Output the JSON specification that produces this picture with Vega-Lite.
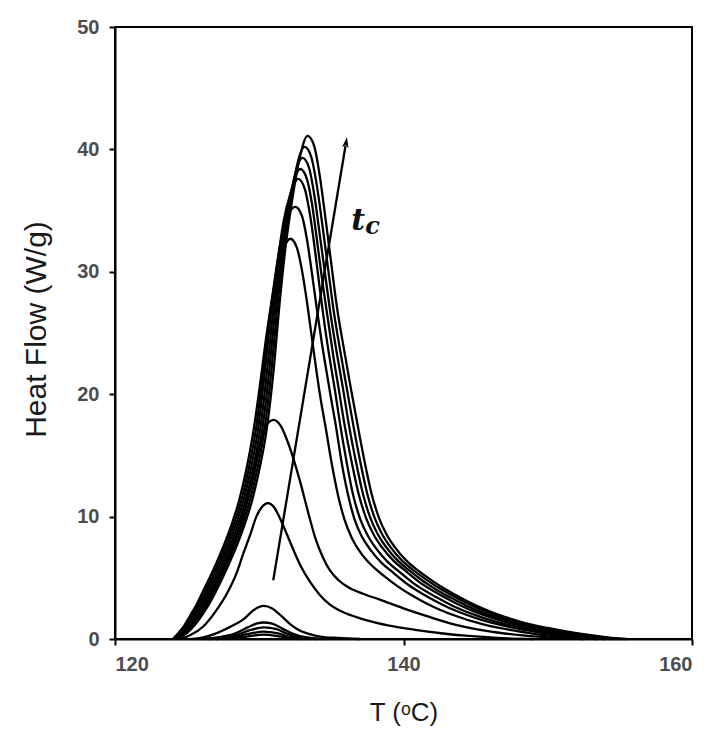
{
  "$schema": "https://vega.github.io/schema/vega-lite/v6.json",
  "autosize": "none",
  "width": 577,
  "height": 612,
  "padding": {"left": 115, "top": 27, "right": 23, "bottom": 99},
  "background": "white",
  "config": {
    "view": {"stroke": "black", "strokeWidth": 2},
    "axis": {
      "domainColor": "black", "domainWidth": 2, "tickColor": "black", "tickWidth": 2, "tickSize": 6,
      "grid": false, "labelFont": "Liberation Sans", "labelFontSize": 20, "labelFontWeight": "bold", "labelColor": "#4d4d4d",
      "titleFont": "Liberation Sans", "titleFontWeight": "normal", "titleColor": "#1a1a1a"
    }
  },
  "layer": [
    {
      "data": {"values": [
        {"c":1,"T":124.3,"y":0},{"c":1,"T":125,"y":0.5},{"c":1,"T":125.5,"y":1.1},{"c":1,"T":126,"y":1.9},{"c":1,"T":126.5,"y":2.8},{"c":1,"T":127,"y":3.9},{"c":1,"T":127.5,"y":5.1},{"c":1,"T":128,"y":6.4},{"c":1,"T":128.5,"y":7.8},{"c":1,"T":129,"y":9.4},{"c":1,"T":129.5,"y":11.3},{"c":1,"T":130,"y":13.8},{"c":1,"T":130.5,"y":17.0},{"c":1,"T":131,"y":22.0},{"c":1,"T":131.4,"y":27.3},{"c":1,"T":131.8,"y":31.8},{"c":1,"T":132.3,"y":36.0},{"c":1,"T":132.8,"y":39.3},{"c":1,"T":133.35,"y":41.1},{"c":1,"T":133.8,"y":40.3},{"c":1,"T":134.2,"y":37.8},{"c":1,"T":134.6,"y":34.3},{"c":1,"T":135,"y":30.6},{"c":1,"T":135.4,"y":27.0},{"c":1,"T":135.9,"y":23.5},{"c":1,"T":136.3,"y":20.8},{"c":1,"T":136.8,"y":17.6},{"c":1,"T":137.3,"y":14.5},{"c":1,"T":137.8,"y":11.8},{"c":1,"T":138.3,"y":9.9},{"c":1,"T":138.8,"y":8.6},{"c":1,"T":139.4,"y":7.5},{"c":1,"T":140.2,"y":6.4},{"c":1,"T":141,"y":5.6},{"c":1,"T":142,"y":4.75},{"c":1,"T":143,"y":4.0},{"c":1,"T":144,"y":3.35},{"c":1,"T":145,"y":2.75},{"c":1,"T":146,"y":2.25},{"c":1,"T":147,"y":1.82},{"c":1,"T":148,"y":1.45},{"c":1,"T":150,"y":0.9},{"c":1,"T":152,"y":0.47},{"c":1,"T":154,"y":0.16},{"c":1,"T":155.5,"y":0},
        {"c":2,"T":124.25,"y":0},{"c":2,"T":124.9,"y":0.5},{"c":2,"T":125.4,"y":1.1},{"c":2,"T":125.85,"y":1.9},{"c":2,"T":126.35,"y":2.8},{"c":2,"T":126.85,"y":3.9},{"c":2,"T":127.35,"y":5.1},{"c":2,"T":127.85,"y":6.4},{"c":2,"T":128.35,"y":7.8},{"c":2,"T":128.85,"y":9.4},{"c":2,"T":129.35,"y":11.3},{"c":2,"T":129.85,"y":13.8},{"c":2,"T":130.35,"y":17.0},{"c":2,"T":130.85,"y":22.0},{"c":2,"T":131.25,"y":27.1},{"c":2,"T":131.65,"y":31.4},{"c":2,"T":132.15,"y":35.4},{"c":2,"T":132.6,"y":38.6},{"c":2,"T":133.15,"y":40.2},{"c":2,"T":133.6,"y":39.4},{"c":2,"T":134.0,"y":37.0},{"c":2,"T":134.4,"y":33.6},{"c":2,"T":134.8,"y":30.0},{"c":2,"T":135.2,"y":26.5},{"c":2,"T":135.65,"y":23.3},{"c":2,"T":136.05,"y":20.6},{"c":2,"T":136.5,"y":17.6},{"c":2,"T":137.0,"y":14.5},{"c":2,"T":137.5,"y":11.8},{"c":2,"T":138.0,"y":9.9},{"c":2,"T":138.5,"y":8.6},{"c":2,"T":139.1,"y":7.5},{"c":2,"T":139.9,"y":6.4},{"c":2,"T":140.7,"y":5.6},{"c":2,"T":141.7,"y":4.75},{"c":2,"T":142.7,"y":4.0},{"c":2,"T":143.7,"y":3.35},{"c":2,"T":144.7,"y":2.75},{"c":2,"T":145.7,"y":2.25},{"c":2,"T":146.7,"y":1.82},{"c":2,"T":147.7,"y":1.45},{"c":2,"T":149.7,"y":0.9},{"c":2,"T":151.7,"y":0.47},{"c":2,"T":153.7,"y":0.16},{"c":2,"T":155.2,"y":0},
        {"c":3,"T":124.2,"y":0},{"c":3,"T":124.8,"y":0.5},{"c":3,"T":125.3,"y":1.1},{"c":3,"T":125.7,"y":1.9},{"c":3,"T":126.2,"y":2.8},{"c":3,"T":126.7,"y":3.9},{"c":3,"T":127.2,"y":5.1},{"c":3,"T":127.7,"y":6.4},{"c":3,"T":128.2,"y":7.8},{"c":3,"T":128.7,"y":9.4},{"c":3,"T":129.2,"y":11.3},{"c":3,"T":129.7,"y":13.8},{"c":3,"T":130.2,"y":17.0},{"c":3,"T":130.7,"y":22.0},{"c":3,"T":131.1,"y":26.9},{"c":3,"T":131.5,"y":31.0},{"c":3,"T":132.0,"y":35.0},{"c":3,"T":132.45,"y":37.8},{"c":3,"T":133.0,"y":39.3},{"c":3,"T":133.45,"y":38.5},{"c":3,"T":133.8,"y":36.4},{"c":3,"T":134.2,"y":33.0},{"c":3,"T":134.6,"y":29.5},{"c":3,"T":135.0,"y":26.1},{"c":3,"T":135.4,"y":23.2},{"c":3,"T":135.8,"y":20.5},{"c":3,"T":136.2,"y":17.6},{"c":3,"T":136.7,"y":14.5},{"c":3,"T":137.2,"y":11.8},{"c":3,"T":137.7,"y":9.9},{"c":3,"T":138.2,"y":8.6},{"c":3,"T":138.8,"y":7.5},{"c":3,"T":139.6,"y":6.4},{"c":3,"T":140.4,"y":5.6},{"c":3,"T":141.4,"y":4.7},{"c":3,"T":142.4,"y":3.95},{"c":3,"T":143.4,"y":3.3},{"c":3,"T":144.4,"y":2.7},{"c":3,"T":145.4,"y":2.2},{"c":3,"T":146.4,"y":1.78},{"c":3,"T":147.4,"y":1.42},{"c":3,"T":149.4,"y":0.87},{"c":3,"T":151.4,"y":0.45},{"c":3,"T":153.4,"y":0.15},{"c":3,"T":155.0,"y":0},
        {"c":4,"T":124.15,"y":0},{"c":4,"T":124.7,"y":0.5},{"c":4,"T":125.15,"y":1.1},{"c":4,"T":125.55,"y":1.9},{"c":4,"T":126.05,"y":2.8},{"c":4,"T":126.55,"y":3.9},{"c":4,"T":127.05,"y":5.1},{"c":4,"T":127.55,"y":6.4},{"c":4,"T":128.05,"y":7.8},{"c":4,"T":128.55,"y":9.4},{"c":4,"T":129.05,"y":11.3},{"c":4,"T":129.55,"y":13.8},{"c":4,"T":130.05,"y":17.0},{"c":4,"T":130.55,"y":22.0},{"c":4,"T":130.95,"y":26.7},{"c":4,"T":131.35,"y":30.6},{"c":4,"T":131.85,"y":34.6},{"c":4,"T":132.3,"y":37.0},{"c":4,"T":132.85,"y":38.4},{"c":4,"T":133.3,"y":37.6},{"c":4,"T":133.65,"y":35.6},{"c":4,"T":134.0,"y":32.6},{"c":4,"T":134.4,"y":29.0},{"c":4,"T":134.8,"y":25.8},{"c":4,"T":135.15,"y":23.0},{"c":4,"T":135.5,"y":20.5},{"c":4,"T":135.9,"y":17.6},{"c":4,"T":136.4,"y":14.5},{"c":4,"T":136.9,"y":11.8},{"c":4,"T":137.4,"y":9.9},{"c":4,"T":137.9,"y":8.6},{"c":4,"T":138.5,"y":7.5},{"c":4,"T":139.3,"y":6.4},{"c":4,"T":140.1,"y":5.6},{"c":4,"T":141.1,"y":4.65},{"c":4,"T":142.1,"y":3.9},{"c":4,"T":143.1,"y":3.25},{"c":4,"T":144.1,"y":2.65},{"c":4,"T":145.1,"y":2.15},{"c":4,"T":146.1,"y":1.74},{"c":4,"T":147.1,"y":1.38},{"c":4,"T":149.1,"y":0.84},{"c":4,"T":151.1,"y":0.43},{"c":4,"T":153.1,"y":0.14},{"c":4,"T":154.8,"y":0},
        {"c":5,"T":124.1,"y":0},{"c":5,"T":124.6,"y":0.5},{"c":5,"T":125.0,"y":1.1},{"c":5,"T":125.4,"y":1.9},{"c":5,"T":125.9,"y":2.8},{"c":5,"T":126.4,"y":3.9},{"c":5,"T":126.9,"y":5.1},{"c":5,"T":127.4,"y":6.4},{"c":5,"T":127.9,"y":7.8},{"c":5,"T":128.4,"y":9.4},{"c":5,"T":128.9,"y":11.3},{"c":5,"T":129.4,"y":13.8},{"c":5,"T":129.9,"y":17.0},{"c":5,"T":130.4,"y":22.0},{"c":5,"T":130.8,"y":26.5},{"c":5,"T":131.2,"y":30.2},{"c":5,"T":131.7,"y":34.2},{"c":5,"T":132.15,"y":36.3},{"c":5,"T":132.7,"y":37.6},{"c":5,"T":133.15,"y":36.8},{"c":5,"T":133.5,"y":34.8},{"c":5,"T":133.85,"y":31.9},{"c":5,"T":134.2,"y":28.6},{"c":5,"T":134.55,"y":25.5},{"c":5,"T":134.9,"y":22.8},{"c":5,"T":135.25,"y":20.3},{"c":5,"T":135.6,"y":17.6},{"c":5,"T":136.05,"y":14.5},{"c":5,"T":136.5,"y":11.8},{"c":5,"T":137.0,"y":9.8},{"c":5,"T":137.5,"y":8.5},{"c":5,"T":138.1,"y":7.4},{"c":5,"T":138.9,"y":6.3},{"c":5,"T":139.7,"y":5.5},{"c":5,"T":140.7,"y":4.55},{"c":5,"T":141.7,"y":3.8},{"c":5,"T":142.7,"y":3.15},{"c":5,"T":143.7,"y":2.55},{"c":5,"T":144.7,"y":2.07},{"c":5,"T":145.7,"y":1.67},{"c":5,"T":146.7,"y":1.32},{"c":5,"T":148.7,"y":0.8},{"c":5,"T":150.7,"y":0.4},{"c":5,"T":152.7,"y":0.13},{"c":5,"T":154.5,"y":0},
        {"c":6,"T":124.05,"y":0},{"c":6,"T":124.5,"y":0.5},{"c":6,"T":124.9,"y":1.1},{"c":6,"T":125.3,"y":1.9},{"c":6,"T":125.75,"y":2.8},{"c":6,"T":126.25,"y":3.9},{"c":6,"T":126.75,"y":5.1},{"c":6,"T":127.25,"y":6.4},{"c":6,"T":127.75,"y":7.8},{"c":6,"T":128.25,"y":9.4},{"c":6,"T":128.75,"y":11.3},{"c":6,"T":129.25,"y":13.8},{"c":6,"T":129.75,"y":17.0},{"c":6,"T":130.25,"y":21.6},{"c":6,"T":130.65,"y":25.7},{"c":6,"T":131.05,"y":29.2},{"c":6,"T":131.55,"y":32.8},{"c":6,"T":132.0,"y":34.6},{"c":6,"T":132.5,"y":35.3},{"c":6,"T":132.95,"y":34.6},{"c":6,"T":133.3,"y":32.7},{"c":6,"T":133.65,"y":29.9},{"c":6,"T":134.0,"y":26.9},{"c":6,"T":134.35,"y":24.1},{"c":6,"T":134.7,"y":21.6},{"c":6,"T":135.0,"y":19.5},{"c":6,"T":135.3,"y":17.5},{"c":6,"T":135.7,"y":14.5},{"c":6,"T":136.15,"y":11.8},{"c":6,"T":136.6,"y":9.8},{"c":6,"T":137.1,"y":8.4},{"c":6,"T":137.7,"y":7.3},{"c":6,"T":138.5,"y":6.2},{"c":6,"T":139.3,"y":5.4},{"c":6,"T":140.3,"y":4.45},{"c":6,"T":141.3,"y":3.7},{"c":6,"T":142.3,"y":3.05},{"c":6,"T":143.3,"y":2.47},{"c":6,"T":144.3,"y":2.0},{"c":6,"T":145.3,"y":1.6},{"c":6,"T":146.3,"y":1.27},{"c":6,"T":148.3,"y":0.76},{"c":6,"T":150.3,"y":0.37},{"c":6,"T":152.3,"y":0.12},{"c":6,"T":154,"y":0},
        {"c":7,"T":124.0,"y":0},{"c":7,"T":124.4,"y":0.5},{"c":7,"T":124.8,"y":1.1},{"c":7,"T":125.2,"y":1.9},{"c":7,"T":125.65,"y":2.8},{"c":7,"T":126.1,"y":3.9},{"c":7,"T":126.6,"y":5.1},{"c":7,"T":127.1,"y":6.4},{"c":7,"T":127.6,"y":7.8},{"c":7,"T":128.1,"y":9.4},{"c":7,"T":128.6,"y":11.3},{"c":7,"T":129.1,"y":13.8},{"c":7,"T":129.6,"y":17.0},{"c":7,"T":130.1,"y":21.2},{"c":7,"T":130.5,"y":24.8},{"c":7,"T":130.95,"y":28.2},{"c":7,"T":131.4,"y":30.9},{"c":7,"T":131.75,"y":32.1},{"c":7,"T":132.15,"y":32.7},{"c":7,"T":132.6,"y":32.0},{"c":7,"T":132.95,"y":30.2},{"c":7,"T":133.3,"y":27.6},{"c":7,"T":133.65,"y":24.6},{"c":7,"T":134.0,"y":21.6},{"c":7,"T":134.3,"y":19.3},{"c":7,"T":134.6,"y":17.3},{"c":7,"T":135.0,"y":14.5},{"c":7,"T":135.45,"y":11.8},{"c":7,"T":135.9,"y":9.8},{"c":7,"T":136.4,"y":8.3},{"c":7,"T":137.0,"y":7.1},{"c":7,"T":137.8,"y":6.0},{"c":7,"T":138.6,"y":5.2},{"c":7,"T":139.6,"y":4.3},{"c":7,"T":140.6,"y":3.55},{"c":7,"T":141.6,"y":2.9},{"c":7,"T":142.6,"y":2.35},{"c":7,"T":143.6,"y":1.9},{"c":7,"T":144.6,"y":1.5},{"c":7,"T":145.6,"y":1.18},{"c":7,"T":147.6,"y":0.7},{"c":7,"T":149.6,"y":0.33},{"c":7,"T":151.6,"y":0.1},{"c":7,"T":153.5,"y":0},
        {"c":8,"T":124.3,"y":0},{"c":8,"T":124.8,"y":0.5},{"c":8,"T":125.3,"y":1.1},{"c":8,"T":125.8,"y":1.9},{"c":8,"T":126.3,"y":2.8},{"c":8,"T":126.8,"y":3.9},{"c":8,"T":127.3,"y":5.1},{"c":8,"T":127.8,"y":6.5},{"c":8,"T":128.3,"y":8.0},{"c":8,"T":128.8,"y":9.8},{"c":8,"T":129.2,"y":11.6},{"c":8,"T":129.6,"y":13.6},{"c":8,"T":129.95,"y":15.4},{"c":8,"T":130.3,"y":16.9},{"c":8,"T":130.65,"y":17.7},{"c":8,"T":131.0,"y":17.9},{"c":8,"T":131.5,"y":17.4},{"c":8,"T":132.1,"y":15.7},{"c":8,"T":132.8,"y":13.0},{"c":8,"T":133.4,"y":10.3},{"c":8,"T":133.9,"y":8.2},{"c":8,"T":134.4,"y":6.7},{"c":8,"T":134.9,"y":5.6},{"c":8,"T":135.5,"y":4.8},{"c":8,"T":136.2,"y":4.2},{"c":8,"T":137.2,"y":3.7},{"c":8,"T":138.4,"y":3.2},{"c":8,"T":140,"y":2.5},{"c":8,"T":141.8,"y":1.8},{"c":8,"T":143.5,"y":1.2},{"c":8,"T":145.3,"y":0.74},{"c":8,"T":147,"y":0.45},{"c":8,"T":149,"y":0.22},{"c":8,"T":151,"y":0.08},{"c":8,"T":152.5,"y":0},
        {"c":9,"T":124.5,"y":0},{"c":9,"T":125.2,"y":0.3},{"c":9,"T":126.1,"y":1.0},{"c":9,"T":127.0,"y":2.3},{"c":9,"T":127.8,"y":3.8},{"c":9,"T":128.4,"y":5.3},{"c":9,"T":128.9,"y":7.0},{"c":9,"T":129.4,"y":8.6},{"c":9,"T":129.8,"y":10.0},{"c":9,"T":130.2,"y":10.8},{"c":9,"T":130.6,"y":11.1},{"c":9,"T":131.0,"y":10.8},{"c":9,"T":131.5,"y":9.7},{"c":9,"T":131.9,"y":8.6},{"c":9,"T":132.4,"y":7.2},{"c":9,"T":132.9,"y":5.9},{"c":9,"T":133.5,"y":4.7},{"c":9,"T":134.2,"y":3.6},{"c":9,"T":134.9,"y":2.8},{"c":9,"T":136.0,"y":2.1},{"c":9,"T":137.4,"y":1.55},{"c":9,"T":139,"y":1.1},{"c":9,"T":140.8,"y":0.75},{"c":9,"T":142.6,"y":0.47},{"c":9,"T":144.5,"y":0.25},{"c":9,"T":146.5,"y":0.09},{"c":9,"T":149,"y":0},
        {"c":10,"T":125.3,"y":0},{"c":10,"T":126.2,"y":0.15},{"c":10,"T":127.1,"y":0.5},{"c":10,"T":128,"y":1.0},{"c":10,"T":128.9,"y":1.6},{"c":10,"T":129.6,"y":2.35},{"c":10,"T":130.3,"y":2.7},{"c":10,"T":130.9,"y":2.5},{"c":10,"T":131.6,"y":1.8},{"c":10,"T":132.2,"y":1.15},{"c":10,"T":132.8,"y":0.7},{"c":10,"T":133.5,"y":0.4},{"c":10,"T":134.2,"y":0.2},{"c":10,"T":135.5,"y":0.08},{"c":10,"T":137,"y":0},
        {"c":11,"T":126.0,"y":0},{"c":11,"T":127.2,"y":0.15},{"c":11,"T":128.3,"y":0.45},{"c":11,"T":129.2,"y":0.95},{"c":11,"T":129.8,"y":1.25},{"c":11,"T":130.3,"y":1.35},{"c":11,"T":130.9,"y":1.25},{"c":11,"T":131.6,"y":0.85},{"c":11,"T":132.3,"y":0.45},{"c":11,"T":133.2,"y":0.15},{"c":11,"T":134.5,"y":0},
        {"c":12,"T":126.5,"y":0},{"c":12,"T":127.6,"y":0.12},{"c":12,"T":128.5,"y":0.35},{"c":12,"T":129.3,"y":0.7},{"c":12,"T":130.3,"y":0.95},{"c":12,"T":131.2,"y":0.8},{"c":12,"T":131.9,"y":0.45},{"c":12,"T":132.7,"y":0.15},{"c":12,"T":134,"y":0},
        {"c":13,"T":127,"y":0},{"c":13,"T":128,"y":0.1},{"c":13,"T":129,"y":0.35},{"c":13,"T":130.3,"y":0.6},{"c":13,"T":131.3,"y":0.45},{"c":13,"T":132.2,"y":0.15},{"c":13,"T":133.5,"y":0},
        {"c":14,"T":127.5,"y":0},{"c":14,"T":128.8,"y":0.15},{"c":14,"T":130.3,"y":0.35},{"c":14,"T":131.5,"y":0.2},{"c":14,"T":132.8,"y":0}
      ]},
      "mark": {"type": "line", "interpolate": "monotone", "color": "black", "strokeWidth": 2.3},
      "encoding": {
        "x": {"field": "T", "type": "quantitative", "scale": {"domain": [120, 160], "nice": false},
              "axis": {"values": [120, 140, 160], "title": "T (ᵒC)", "titleFontSize": 26, "labelPadding": 9, "titleY": 73, "titleBaseline": "middle"}},
        "y": {"field": "y", "type": "quantitative", "scale": {"domain": [0, 50], "nice": false},
              "axis": {"values": [0, 10, 20, 30, 40, 50], "title": "Heat Flow (W/g)", "titleFontSize": 30, "labelPadding": 10, "titleX": -79, "titleY": 302, "titleAngle": -90, "titleAlign": "center", "titleBaseline": "middle"}},
        "detail": {"field": "c", "type": "nominal"}
      }
    },
    {
      "data": {"values": [{"T": 130.97, "y": 4.8}, {"T": 135.98, "y": 40.3}]},
      "mark": {"type": "line", "color": "black", "strokeWidth": 2.3},
      "encoding": {"x": {"field": "T", "type": "quantitative"}, "y": {"field": "y", "type": "quantitative"}}
    },
    {
      "data": {"values": [{"T": 136.08, "y": 41.0}]},
      "mark": {"type": "point", "shape": "M0,0L0.7,2.2L0,1.7L-0.7,2.2Z", "size": 90, "filled": true, "color": "black", "opacity": 1, "angle": 9.4},
      "encoding": {"x": {"field": "T", "type": "quantitative"}, "y": {"field": "y", "type": "quantitative"}}
    },
    {
      "data": {"values": [{"T": 136.85, "y": 33.4, "s": "t"}]},
      "mark": {"type": "text", "font": "DejaVu Serif", "fontStyle": "italic", "fontWeight": "bold", "fontSize": 30, "align": "center", "baseline": "alphabetic", "color": "#111111"},
      "encoding": {"x": {"field": "T", "type": "quantitative"}, "y": {"field": "y", "type": "quantitative"}, "text": {"field": "s"}}
    },
    {
      "data": {"values": [{"T": 137.85, "y": 33.1, "s": "c"}]},
      "mark": {"type": "text", "font": "DejaVu Serif", "fontStyle": "italic", "fontWeight": "bold", "fontSize": 24, "align": "center", "baseline": "alphabetic", "color": "#111111"},
      "encoding": {"x": {"field": "T", "type": "quantitative"}, "y": {"field": "y", "type": "quantitative"}, "text": {"field": "s"}}
    }
  ]
}
